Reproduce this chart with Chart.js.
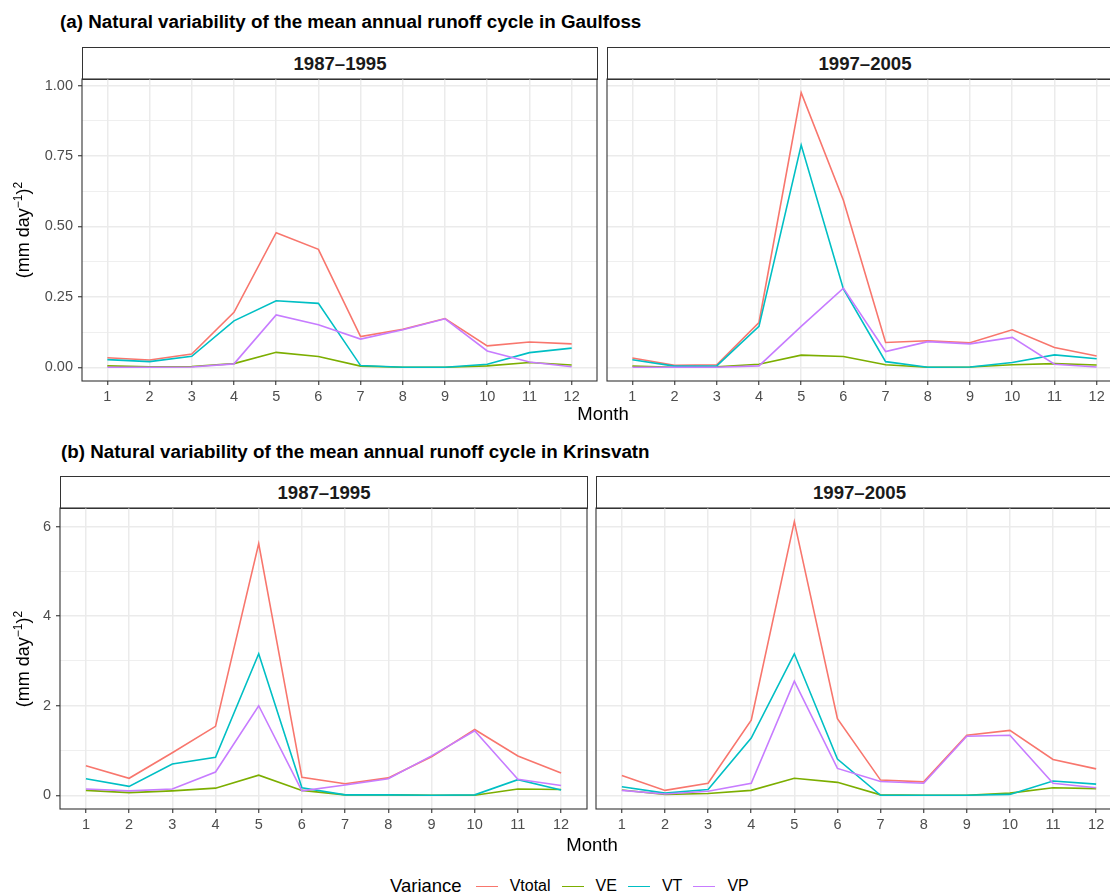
<!DOCTYPE html>
<html>
<head>
<meta charset="utf-8">
<script src="https://cdn.jsdelivr.net/npm/chart.js@4.4.0/dist/chart.umd.min.js"></script>
<style>
  html, body { margin: 0; padding: 0; background: #fff; width: 1110px; height: 896px; overflow: hidden; }
  body { position: relative; font-family: "Liberation Sans", Arial, sans-serif; color: #000; }
  canvas { position: absolute; }
  .title { position: absolute; font-weight: bold; font-size: 18.8px; white-space: nowrap; transform: translateY(-50%); }
  .strip { position: absolute; box-sizing: border-box; border: 1.1px solid #333; background: #fff;
           font-weight: bold; font-size: 18.6px; color: #1a1a1a; display: flex; align-items: center; justify-content: center; }
  .ytitle { position: absolute; transform: translate(-50%, -50%) rotate(-90deg); font-size: 18px; white-space: nowrap; }
  .ytitle sup { font-size: 12px; }
  .xtitle { position: absolute; transform: translate(-50%, -50%); font-size: 18.5px; }
  #legend { position: absolute; left: 390px; top: 886px; transform: translateY(-50%); display: flex; align-items: center; }
  #legend .head { font-size: 18.5px; margin-right: 14px; }
  #legend .key { width: 22px; height: 0; margin-right: 12px; }
  #legend .lab { font-size: 16px; margin-right: 11px; }
</style>
</head>
<body>
<div class="title" style="left:60px; top:22px;">(a) Natural variability of the mean annual runoff cycle in Gaulfoss</div>
<div class="title" style="left:61px; top:452px;">(b) Natural variability of the mean annual runoff cycle in Krinsvatn</div>

<div class="strip" style="left:82px; top:47px; width:516px; height:33px;">1987–1995</div>
<div class="strip" style="left:607px; top:47px; width:516px; height:33px;">1997–2005</div>
<div class="strip" style="left:60px; top:476px; width:528px; height:33px;">1987–1995</div>
<div class="strip" style="left:596px; top:476px; width:527px; height:33px;">1997–2005</div>

<canvas id="c1"></canvas>
<canvas id="c2"></canvas>
<canvas id="c3"></canvas>
<canvas id="c4"></canvas>

<div class="ytitle" style="left:22px; top:230px;">(mm day<sup>−1</sup>)<sup>2</sup></div>
<div class="ytitle" style="left:22px; top:659px;">(mm day<sup>−1</sup>)<sup>2</sup></div>
<div class="xtitle" style="left:603px; top:414px;">Month</div>
<div class="xtitle" style="left:592px; top:845px;">Month</div>

<div id="legend"><span class="head">Variance</span></div>

<script>
const months = [1, 2, 3, 4, 5, 6, 7, 8, 9, 10, 11, 12];
const seriesNames = ["Vtotal", "VE", "VT", "VP"];
const seriesColors = ["#F8766D", "#7CAE00", "#00BFC4", "#C77CFF"];

// Gaulfoss
const gauEarlyVtotal = [0.034, 0.026, 0.047, 0.195, 0.478, 0.419, 0.109, 0.135, 0.173, 0.076, 0.090, 0.083];
const gauEarlyVE     = [0.005, 0.002, 0.003, 0.013, 0.053, 0.038, 0.004, 0.000, 0.000, 0.005, 0.017, 0.008];
const gauEarlyVT     = [0.027, 0.020, 0.039, 0.165, 0.236, 0.227, 0.006, 0.000, 0.000, 0.011, 0.052, 0.068];
const gauEarlyVP     = [0.000, 0.000, 0.001, 0.012, 0.186, 0.151, 0.100, 0.133, 0.172, 0.058, 0.019, 0.002];

const gauLateVtotal = [0.033, 0.007, 0.009, 0.159, 0.975, 0.593, 0.088, 0.094, 0.087, 0.133, 0.070, 0.040];
const gauLateVE     = [0.004, 0.000, 0.002, 0.011, 0.043, 0.038, 0.009, 0.000, 0.001, 0.009, 0.013, 0.008];
const gauLateVT     = [0.027, 0.004, 0.005, 0.145, 0.789, 0.278, 0.020, 0.000, 0.001, 0.017, 0.044, 0.030];
const gauLateVP     = [0.000, 0.000, 0.000, 0.005, 0.145, 0.281, 0.056, 0.091, 0.083, 0.106, 0.011, 0.001];

// Krinsvatn
const kriEarlyVtotal = [0.66, 0.38, 0.95, 1.54, 5.62, 0.40, 0.26, 0.39, 0.86, 1.47, 0.88, 0.50];
const kriEarlyVE     = [0.11, 0.06, 0.10, 0.16, 0.45, 0.11, 0.01, 0.01, 0.00, 0.00, 0.14, 0.13];
const kriEarlyVT     = [0.37, 0.20, 0.70, 0.85, 3.16, 0.17, 0.01, 0.01, 0.00, 0.01, 0.35, 0.12];
const kriEarlyVP     = [0.14, 0.10, 0.14, 0.52, 2.00, 0.10, 0.23, 0.37, 0.88, 1.44, 0.36, 0.22];

const kriLateVtotal = [0.44, 0.11, 0.27, 1.68, 6.11, 1.71, 0.34, 0.30, 1.34, 1.45, 0.80, 0.59];
const kriLateVE     = [0.12, 0.02, 0.04, 0.11, 0.38, 0.29, 0.01, 0.00, 0.00, 0.05, 0.17, 0.15];
const kriLateVT     = [0.19, 0.05, 0.13, 1.28, 3.16, 0.81, 0.00, 0.00, 0.00, 0.02, 0.32, 0.25];
const kriLateVP     = [0.11, 0.03, 0.09, 0.27, 2.55, 0.60, 0.31, 0.27, 1.32, 1.34, 0.27, 0.17];

const gauTicks = [0, 0.25, 0.5, 0.75, 1];
const kriTicks = [0, 2, 4, 6];

// box around each panel, like theme_bw
const panelBorder = {
  id: "panelBorder",
  afterDatasetsDraw(chart) {
    const a = chart.chartArea, c = chart.ctx;
    c.save();
    c.strokeStyle = "#333333";
    c.lineWidth = 1.1;
    c.strokeRect(a.left, a.top, a.right - a.left, a.bottom - a.top);
    c.restore();
  }
};

function drawPanel(id, box, series, yMin, yMax, majors, fmt, showY) {
  const yw = showY ? box.l : 12;
  const padTop = 14, padRight = 14, xh = 34;
  const canvas = document.getElementById(id);
  const w = yw + (box.r - box.l) + padRight;
  const h = padTop + (box.b - box.t) + xh;
  canvas.width = w; canvas.height = h;
  canvas.style.width = w + "px"; canvas.style.height = h + "px";
  canvas.style.left = (box.l - yw) + "px";
  canvas.style.top = (box.t - padTop) + "px";

  const step = majors[1] - majors[0];
  const allTicks = majors.slice();
  majors.slice(1).forEach(v => allTicks.push(v - step / 2));
  allTicks.sort((a, b) => a - b);
  const isMajor = v => majors.includes(v);

  new Chart(canvas, {
    type: "line",
    data: {
      datasets: series.map((vals, i) => ({
        label: seriesNames[i],
        data: months.map((m, k) => ({ x: m, y: vals[k] })),
        borderColor: seriesColors[i],
        borderWidth: 1.6,
        pointRadius: 0,
        fill: false,
        tension: 0,
        order: 4 - i
      }))
    },
    options: {
      responsive: false,
      animation: false,
      events: [],
      layout: { padding: { top: padTop, right: padRight, left: 0, bottom: 0 } },
      plugins: { legend: { display: false }, tooltip: { enabled: false } },
      scales: {
        x: {
          type: "linear",
          min: 0.4, max: 12.6,
          afterBuildTicks: s => { s.ticks = months.map(v => ({ value: v })); },
          afterFit: s => { s.height = xh; },
          border: { display: false },
          grid: { color: "#EBEBEB", lineWidth: 1.5, tickLength: 4, tickColor: "#333333", tickWidth: 1.1 },
          ticks: { color: "#4D4D4D", font: { size: 14.5, family: "Liberation Sans" }, padding: 3, maxRotation: 0, autoSkip: false }
        },
        y: {
          min: yMin, max: yMax,
          afterBuildTicks: s => { s.ticks = allTicks.map(v => ({ value: v })); },
          afterFit: s => { s.width = yw; },
          border: { display: false },
          grid: {
            color: "#EBEBEB",
            lineWidth: c => (c.tick && isMajor(c.tick.value)) ? 1.5 : 0.8,
            drawTicks: showY,
            tickLength: 4,
            tickWidth: 1.1,
            tickColor: c => (c.tick && isMajor(c.tick.value)) ? "#333333" : "rgba(0,0,0,0)"
          },
          ticks: {
            display: showY,
            color: "#4D4D4D",
            font: { size: 14.5, family: "Liberation Sans" },
            padding: 5,
            autoSkip: false,
            callback: v => isMajor(v) ? fmt(v) : ""
          }
        }
      }
    },
    plugins: [panelBorder]
  });
}

const gauMin = -0.04875, gauMax = 1.02375;
const kriMin = -0.3055, kriMax = 6.4155;

drawPanel("c1", { l: 82, t: 79, r: 597, b: 381 },
  [gauEarlyVtotal, gauEarlyVE, gauEarlyVT, gauEarlyVP], gauMin, gauMax, gauTicks, v => v.toFixed(2), true);
drawPanel("c2", { l: 607, t: 79, r: 1122, b: 381 },
  [gauLateVtotal, gauLateVE, gauLateVT, gauLateVP], gauMin, gauMax, gauTicks, v => v.toFixed(2), false);
drawPanel("c3", { l: 60, t: 508, r: 587, b: 809 },
  [kriEarlyVtotal, kriEarlyVE, kriEarlyVT, kriEarlyVP], kriMin, kriMax, kriTicks, v => String(v), true);
drawPanel("c4", { l: 596, t: 508, r: 1122, b: 809 },
  [kriLateVtotal, kriLateVE, kriLateVT, kriLateVP], kriMin, kriMax, kriTicks, v => String(v), false);

// legend
const legend = document.getElementById("legend");
seriesNames.forEach((name, i) => {
  const key = document.createElement("span");
  key.className = "key";
  key.style.borderTop = "1.6px solid " + seriesColors[i];
  legend.appendChild(key);
  const lab = document.createElement("span");
  lab.className = "lab";
  lab.textContent = name;
  legend.appendChild(lab);
});
</script>
</body>
</html>
